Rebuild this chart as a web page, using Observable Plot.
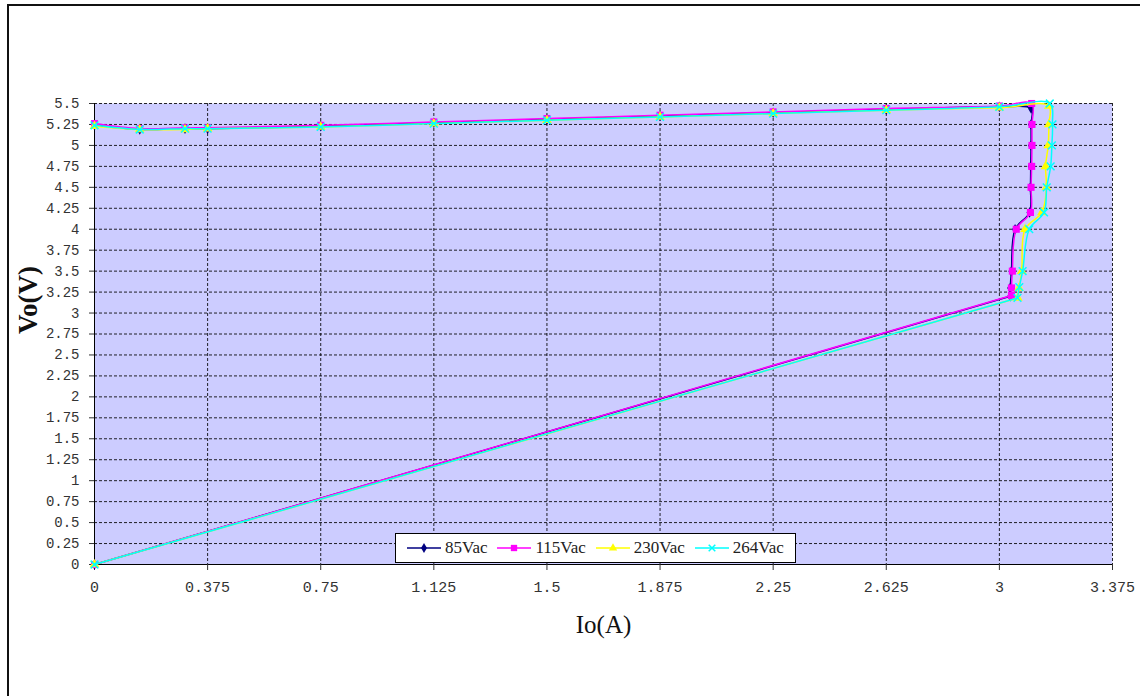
<!DOCTYPE html>
<html>
<head>
<meta charset="utf-8">
<script src="https://cdn.jsdelivr.net/npm/d3@7"></script>
<script src="https://cdn.jsdelivr.net/npm/@observablehq/plot@0.6"></script>
<style>
  html, body { margin: 0; padding: 0; background: #fff; }
  #wrap { position: relative; width: 1140px; height: 696px; overflow: hidden; }
  #border { position: absolute; left: 7px; top: 4px; right: -10px; bottom: -10px;
            border-top: 2px solid #111; border-left: 2px solid #111; pointer-events: none; }
  #legend { position: absolute; left: 395px; top: 533px; width: 401px; height: 30px;
            box-sizing: border-box; padding-left: 11px;
            background: #fff; border: 1px solid #000; display: flex; align-items: center;
            font-family: "Liberation Serif", serif; font-size: 17px; color: #222; }
  #legend .item { display: flex; align-items: center; }
  #legend svg { display: block; margin-right: 4px; }
</style>
</head>
<body>
<div id="wrap"><div id="border"></div></div>
<script>
// Output voltage vs. output current, one curve per AC input voltage
const seriesNames  = ["85Vac", "115Vac", "230Vac", "264Vac"];
const seriesColors = ["#000080", "#ff00ff", "#ffff00", "#00ffff"];
const seriesSymbols = ["diamond", "square", "triangle", "times"];

const io85  = [0, 0.15, 0.3, 0.375, 0.75, 1.125, 1.5, 1.875, 2.25, 2.625, 3.0,
               3.105, 3.105, 3.105, 3.104, 3.103, 3.100, 3.052, 3.040, 3.036, 3.036, 0];
const vo85  = [5.24, 5.19, 5.20, 5.20, 5.23, 5.27, 5.31, 5.35, 5.39, 5.43, 5.46,
               5.44, 5.25, 5.00, 4.75, 4.50, 4.20, 4.00, 3.50, 3.30, 3.20, 0];

const io115 = [0, 0.15, 0.3, 0.375, 0.75, 1.125, 1.5, 1.875, 2.25, 2.625, 3.0,
               3.107, 3.108, 3.108, 3.107, 3.105, 3.103, 3.056, 3.043, 3.040, 3.040, 0];
const vo115 = [5.26, 5.20, 5.21, 5.21, 5.24, 5.28, 5.32, 5.36, 5.40, 5.44, 5.47,
               5.50, 5.25, 5.00, 4.75, 4.50, 4.20, 4.00, 3.50, 3.30, 3.21, 0];

const io230 = [0, 0.15, 0.3, 0.375, 0.75, 1.125, 1.5, 1.875, 2.25, 2.625, 3.0,
               3.164, 3.164, 3.162, 3.153, 3.156, 3.141, 3.085, 3.074, 3.065, 3.061, 0];
const vo230 = [5.23, 5.19, 5.19, 5.20, 5.22, 5.26, 5.30, 5.34, 5.38, 5.42, 5.45,
               5.47, 5.25, 5.00, 4.75, 4.50, 4.20, 4.00, 3.50, 3.30, 3.18, 0];

const io264 = [0, 0.15, 0.3, 0.375, 0.75, 1.125, 1.5, 1.875, 2.25, 2.625, 3.0,
               3.167, 3.176, 3.174, 3.170, 3.157, 3.148, 3.099, 3.077, 3.066, 3.060, 0];
const vo264 = [5.24, 5.19, 5.20, 5.20, 5.22, 5.26, 5.30, 5.34, 5.38, 5.42, 5.46,
               5.50, 5.25, 5.00, 4.75, 4.50, 4.20, 4.00, 3.50, 3.31, 3.18, 0];

const xTicks = [0, 0.375, 0.75, 1.125, 1.5, 1.875, 2.25, 2.625, 3, 3.375];
const yTicks = [0, 0.25, 0.5, 0.75, 1, 1.25, 1.5, 1.75, 2, 2.25, 2.5, 2.75, 3, 3.25,
                3.5, 3.75, 4, 4.25, 4.5, 4.75, 5, 5.25, 5.5];

const xTitle = "Io(A)";
const yTitle = "Vo(V)";

const ioSets = [io85, io115, io230, io264];
const voSets = [vo85, vo115, vo230, vo264];

const series = seriesNames.map((name, i) => ({
  name,
  color: seriesColors[i],
  symbol: seriesSymbols[i],
  rows: ioSets[i].map((io, j) => ({io, vo: voSets[i][j]}))
}));

// Smoothed curve through the measured points; the short-circuit run back to
// the origin is a straight segment.
const curveMarks = series.flatMap(s => {
  const isStroke = s.symbol === "times";
  const n = s.rows.length;
  return [
    Plot.line(s.rows.slice(0, n - 1), {x: "io", y: "vo", stroke: s.color, strokeWidth: 1.5, curve: "catmull-rom"}),
    Plot.line(s.rows.slice(n - 2), {x: "io", y: "vo", stroke: s.color, strokeWidth: 1.5}),
    Plot.dot(s.rows, {
      x: "io", y: "vo", symbol: s.symbol,
      r: s.symbol === "square" ? 4 : (s.symbol === "diamond" ? 3.2 : 3.6),
      fill: isStroke ? "none" : s.color,
      stroke: isStroke ? s.color : "none",
      strokeWidth: isStroke ? 1.5 : 0
    })
  ];
});

const chart = Plot.plot({
  width: 1140,
  height: 696,
  marginLeft: 94,
  marginRight: 28,
  marginTop: 103,
  marginBottom: 132,
  style: {fontFamily: "Liberation Mono, monospace", background: "transparent"},
  x: {domain: [0, 3.375]},
  y: {domain: [0, 5.5]},
  marks: [
    Plot.frame({fill: "#ccccff", stroke: "none"}),
    Plot.gridX(xTicks, {stroke: "#000", strokeOpacity: 0.85, strokeDasharray: "3,2"}),
    Plot.gridY(yTicks, {stroke: "#000", strokeOpacity: 0.85, strokeDasharray: "3,2"}),
    Plot.ruleX([0], {stroke: "#000"}),
    Plot.ruleY([0], {stroke: "#000"}),
    Plot.axisX(xTicks, {label: null, tickSize: 6, tickPadding: 11, fontSize: 15,
                        color: "#333", tickFormat: d => String(d)}),
    Plot.axisY(yTicks, {label: null, tickSize: 5, tickPadding: 10, fontSize: 14,
                        color: "#333", tickFormat: d => String(d)}),
    Plot.text([xTitle], {frameAnchor: "bottom", dy: 68, fontSize: 25,
                         fontFamily: "Liberation Serif, serif", fill: "#111"}),
    Plot.text([yTitle], {frameAnchor: "left", dx: -66, rotate: -90, fontSize: 27,
                         fontWeight: "bold", fontFamily: "Liberation Serif, serif", fill: "#111"}),
    ...curveMarks
  ]
});

const wrap = document.getElementById("wrap");
wrap.insertBefore(chart, wrap.firstChild);

// Legend box drawn over the lower part of the plot area
const legend = d3.select(wrap).append("div").attr("id", "legend");
series.forEach((s, i) => {
  const item = legend.append("div").attr("class", "item")
    .style("margin-right", i < series.length - 1 ? "10px" : "0");
  const sw = item.append("svg").attr("width", 34).attr("height", 14);
  sw.append("line").attr("x1", 0).attr("x2", 34).attr("y1", 7).attr("y2", 7)
    .attr("stroke", s.color).attr("stroke-width", 1.5);
  const sym = {diamond: d3.symbolDiamond, square: d3.symbolSquare,
               triangle: d3.symbolTriangle, times: d3.symbolTimes}[s.symbol];
  const size = s.symbol === "square" ? 40 : 30;
  sw.append("path").attr("transform", "translate(17,7)")
    .attr("d", d3.symbol(sym, size)())
    .attr("fill", s.symbol === "times" ? "none" : s.color)
    .attr("stroke", s.symbol === "times" ? s.color : "none")
    .attr("stroke-width", 1.5);
  item.append("span").text(s.name);
});
</script>
</body>
</html>
